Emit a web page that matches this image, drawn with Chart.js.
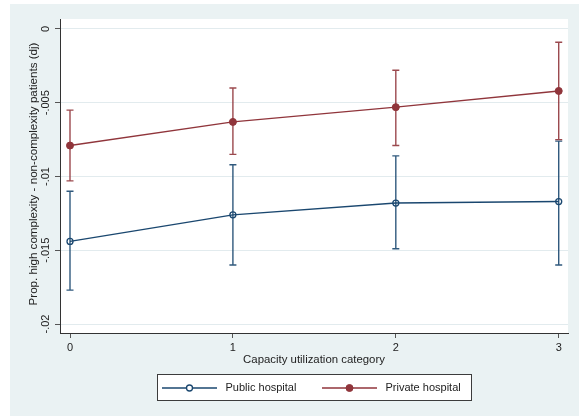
<!DOCTYPE html>
<html>
<head>
<meta charset="utf-8">
<script src="https://cdn.jsdelivr.net/npm/chart.js@4.4.1/dist/chart.umd.min.js"></script>
<style>
  html, body { margin: 0; padding: 0; background: #ffffff; }
  #wrap { width: 579px; height: 416px; }
</style>
</head>
<body>
<div id="wrap"><canvas id="c" width="579" height="416"></canvas></div>
<script>
// Capacity utilization categories (x positions)
const CATEGORIES = [0, 1, 2, 3];
const X_TICKS = [0, 1, 2, 3];
const Y_TICKS = [0, -0.005, -0.01, -0.015, -0.02];
const Y_TICK_LABELS = ['0', '-.005', '-.01', '-.015', '-.02'];

// Point estimates and confidence limits per hospital type
const PUBLIC_MEAN  = [-0.0144, -0.0126, -0.0118, -0.0117];
const PUBLIC_LOW   = [-0.0177, -0.0160, -0.0149, -0.0160];
const PUBLIC_HIGH  = [-0.0110, -0.0092, -0.0086, -0.0076];
const PRIVATE_MEAN = [-0.0079, -0.0063, -0.0053, -0.0042];
const PRIVATE_LOW  = [-0.0103, -0.0085, -0.0079, -0.0075];
const PRIVATE_HIGH = [-0.0055, -0.0040, -0.0028, -0.0009];

const SERIES_LABELS = ['Public hospital', 'Private hospital'];
const X_TITLE = 'Capacity utilization category';
const Y_TITLE = 'Prop. high complexity - non-complexity patients (dj)';

const NAVY = '#1a476f';
const MAROON = '#90353b';
const BG = '#eaf2f3';
const GRID = '#e2ebee';
const TEXT = '#222222';
const FONT = "'Liberation Sans', Arial, sans-serif";

const toPoints = (ys) => CATEGORIES.map((c, i) => ({ x: c, y: ys[i] }));

// Background panels: outer graph region and white plot region
const backgroundPlugin = {
  id: 'panels',
  beforeDraw(chart) {
    const { ctx, chartArea: a } = chart;
    ctx.save();
    ctx.fillStyle = '#ffffff';
    ctx.fillRect(0, 0, chart.width, chart.height);
    ctx.fillStyle = BG;
    ctx.fillRect(10, 4, chart.width - 10, chart.height - 4);
    ctx.fillStyle = '#ffffff';
    ctx.fillRect(a.left, a.top, a.right - a.left, a.bottom - a.top);
    ctx.restore();
  }
};

// Capped vertical interval bars for each series
const intervalPlugin = {
  id: 'intervals',
  beforeDatasetsDraw(chart) {
    const { ctx, scales: { x, y } } = chart;
    const sets = [
      { low: PUBLIC_LOW, high: PUBLIC_HIGH, color: NAVY },
      { low: PRIVATE_LOW, high: PRIVATE_HIGH, color: MAROON }
    ];
    ctx.save();
    ctx.lineWidth = 1.4;
    ctx.globalAlpha = 0.9;
    sets.forEach(s => {
      ctx.strokeStyle = s.color;
      CATEGORIES.forEach((c, i) => {
        const px = x.getPixelForValue(c);
        const pLo = y.getPixelForValue(s.low[i]);
        const pHi = y.getPixelForValue(s.high[i]);
        ctx.beginPath();
        ctx.moveTo(px, pLo); ctx.lineTo(px, pHi);
        ctx.moveTo(px - 3.5, pLo); ctx.lineTo(px + 3.5, pLo);
        ctx.moveTo(px - 3.5, pHi); ctx.lineTo(px + 3.5, pHi);
        ctx.stroke();
      });
    });
    ctx.restore();
  }
};

// Rotated y tick labels, axis titles and boxed legend
const textPlugin = {
  id: 'texts',
  afterDraw(chart) {
    const { ctx, chartArea: a, scales: { y } } = chart;
    ctx.save();
    ctx.fillStyle = TEXT;
    ctx.font = '11px ' + FONT;
    ctx.textAlign = 'center';
    ctx.textBaseline = 'middle';
    Y_TICKS.forEach((v, i) => {
      ctx.save();
      ctx.translate(45.5, y.getPixelForValue(v));
      ctx.rotate(-Math.PI / 2);
      ctx.fillText(Y_TICK_LABELS[i], 0, 0);
      ctx.restore();
    });
    ctx.font = '11.6px ' + FONT;
    ctx.save();
    ctx.translate(33.5, 174);
    ctx.rotate(-Math.PI / 2);
    ctx.fillText(Y_TITLE, 0, 0);
    ctx.restore();
    ctx.font = '11.4px ' + FONT;
    ctx.fillText(X_TITLE, (a.left + a.right) / 2, 360);

    // legend
    ctx.font = '11px ' + FONT;
    const bx = 157, by = 374, bw = 315, bh = 27;
    ctx.fillStyle = '#ffffff';
    ctx.fillRect(bx, by, bw, bh);
    ctx.strokeStyle = '#3c3c3c';
    ctx.lineWidth = 1;
    ctx.strokeRect(bx + 0.5, by + 0.5, bw - 1, bh - 1);
    const ly = 388;
    const items = [
      { x0: 162, ds: chart.data.datasets[0] },
      { x0: 322, ds: chart.data.datasets[1] }
    ];
    items.forEach(it => {
      const ds = it.ds;
      ctx.strokeStyle = ds.borderColor;
      ctx.lineWidth = 1.4;
      ctx.beginPath();
      ctx.moveTo(it.x0, ly); ctx.lineTo(it.x0 + 55, ly);
      ctx.stroke();
      ctx.beginPath();
      ctx.arc(it.x0 + 27.5, ly, ds.pointRadius, 0, Math.PI * 2);
      ctx.fillStyle = ds.pointBackgroundColor !== 'transparent' ? ds.pointBackgroundColor : '#ffffff';
      ctx.fill();
      ctx.lineWidth = ds.pointBorderWidth;
      ctx.strokeStyle = ds.pointBorderColor;
      ctx.stroke();
      ctx.fillStyle = TEXT;
      ctx.textAlign = 'left';
      ctx.fillText(ds.label, it.x0 + 63.5, ly);
    });
    ctx.restore();
  }
};

new Chart(document.getElementById('c'), {
  type: 'line',
  data: {
    datasets: [
      {
        label: SERIES_LABELS[0],
        data: toPoints(PUBLIC_MEAN),
        borderColor: NAVY,
        borderWidth: 1.4,
        pointRadius: 3,
        pointBorderWidth: 1.3,
        pointBorderColor: NAVY,
        pointBackgroundColor: 'transparent',
        pointStyle: 'circle',
        tension: 0,
        fill: false
      },
      {
        label: SERIES_LABELS[1],
        data: toPoints(PRIVATE_MEAN),
        borderColor: MAROON,
        borderWidth: 1.4,
        pointRadius: 3.5,
        pointBorderWidth: 1,
        pointBorderColor: MAROON,
        pointBackgroundColor: MAROON,
        pointStyle: 'circle',
        tension: 0,
        fill: false
      }
    ]
  },
  options: {
    responsive: false,
    animation: false,
    devicePixelRatio: 1,
    layout: { padding: { left: 10, top: 19, right: 11, bottom: 0 } },
    plugins: {
      legend: { display: false },
      tooltip: { enabled: false }
    },
    scales: {
      x: {
        type: 'linear',
        min: -0.0614,
        max: 3.057,
        afterBuildTicks(scale) { scale.ticks = X_TICKS.map(v => ({ value: v })); },
        afterFit(scale) { scale.height = 83; },
        grid: { color: 'transparent', drawTicks: true, tickLength: 5, tickColor: '#555555', tickWidth: 1 },
        border: { display: true, color: '#333333', width: 1 },
        ticks: {
          color: TEXT,
          font: { family: FONT, size: 11 },
          padding: 3,
          maxRotation: 0,
          callback: (v) => String(v)
        }
      },
      y: {
        type: 'linear',
        min: -0.02061,
        max: 0.000677,
        afterBuildTicks(scale) { scale.ticks = Y_TICKS.map(v => ({ value: v })); },
        afterFit(scale) { scale.width = 50; },
        grid: { color: GRID, lineWidth: 1, drawTicks: true, tickLength: 5, tickColor: '#555555' },
        border: { display: true, color: '#333333', width: 1 },
        ticks: { display: false }
      }
    }
  },
  plugins: [backgroundPlugin, intervalPlugin, textPlugin]
});
</script>
</body>
</html>
